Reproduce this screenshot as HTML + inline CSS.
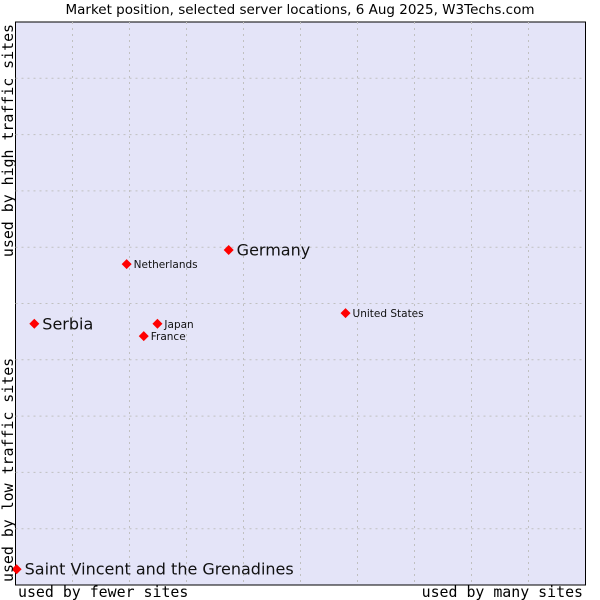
<!DOCTYPE html>
<html><head><meta charset="utf-8"><style>body{margin:0;background:#fff}svg{display:block}</style></head>
<body>
<svg id="chart" width="600" height="600" xmlns="http://www.w3.org/2000/svg" font-family="DejaVu Sans, sans-serif">
<text x="300" y="14" text-anchor="middle" font-size="13.5" fill="#000">Market position, selected server locations, 6 Aug 2025, W3Techs.com</text>
<rect x="15.5" y="22" width="570" height="563" fill="#e4e4f8" stroke="#000" stroke-width="1"/>
<g id="grid"></g>
<g id="points"></g>
<text x="18" y="597" font-family="DejaVu Sans Mono, monospace" font-size="14.9">used by fewer sites</text>
<text x="583" y="597" text-anchor="end" font-family="DejaVu Sans Mono, monospace" font-size="14.9">used by many sites</text>
<text transform="translate(13,24) rotate(-90)" text-anchor="end" font-family="DejaVu Sans Mono, monospace" font-size="14.9">used by high traffic sites</text>
<text transform="translate(13,582) rotate(-90)" font-family="DejaVu Sans Mono, monospace" font-size="14.9">used by low traffic sites</text>
</svg>
<script>
const names=["Saint Vincent and the Grenadines","Serbia","Netherlands","Germany","Japan","France","United States"];
const xVals=[0.2,3.3,19.5,37.4,24.9,22.5,57.9];
const yVals=[2.8,46.4,57.0,59.5,46.4,44.2,48.3];
const big=[true,true,false,true,false,false,false];
const L=15.5,T=22,W=570,H=563;
const sx=v=>L+v/100*W, sy=v=>T+H-v/100*H;
const NS="http://www.w3.org/2000/svg";
const g=document.getElementById('grid'),p=document.getElementById('points');
for(let i=1;i<10;i++){
  const a=document.createElementNS(NS,'line');
  
  
  a.setAttribute('x1',sx(i*10));a.setAttribute('x2',sx(i*10));a.setAttribute('y1',T);a.setAttribute('y2',T+H);
  a.setAttribute('stroke','#c0c0c0');a.setAttribute('stroke-dasharray','2,4');g.appendChild(a);
  const b=document.createElementNS(NS,'line');
  
  
  b.setAttribute('y1',sy(i*10));b.setAttribute('y2',sy(i*10));b.setAttribute('x1',L);b.setAttribute('x2',L+W);
  b.setAttribute('stroke','#c0c0c0');b.setAttribute('stroke-dasharray','2,4');g.appendChild(b);
}
names.forEach((n,i)=>{
  const x=sx(xVals[i]),y=sy(yVals[i]);
  const d=document.createElementNS(NS,'polygon');
  
  
  d.setAttribute('points',`${x},${y-5} ${x+5},${y} ${x},${y+5} ${x-5},${y}`);
  d.setAttribute('fill','#f00');p.appendChild(d);
  const t=document.createElementNS(NS,'text');
  
  
  t.setAttribute('x',x+(big[i]?8:7));t.setAttribute('y',y+(big[i]?5.5:4));
  t.setAttribute('font-size',big[i]?'16':'10.5');t.setAttribute('fill','#111');
  t.textContent=n;p.appendChild(t);
});
</script>
</body></html>
